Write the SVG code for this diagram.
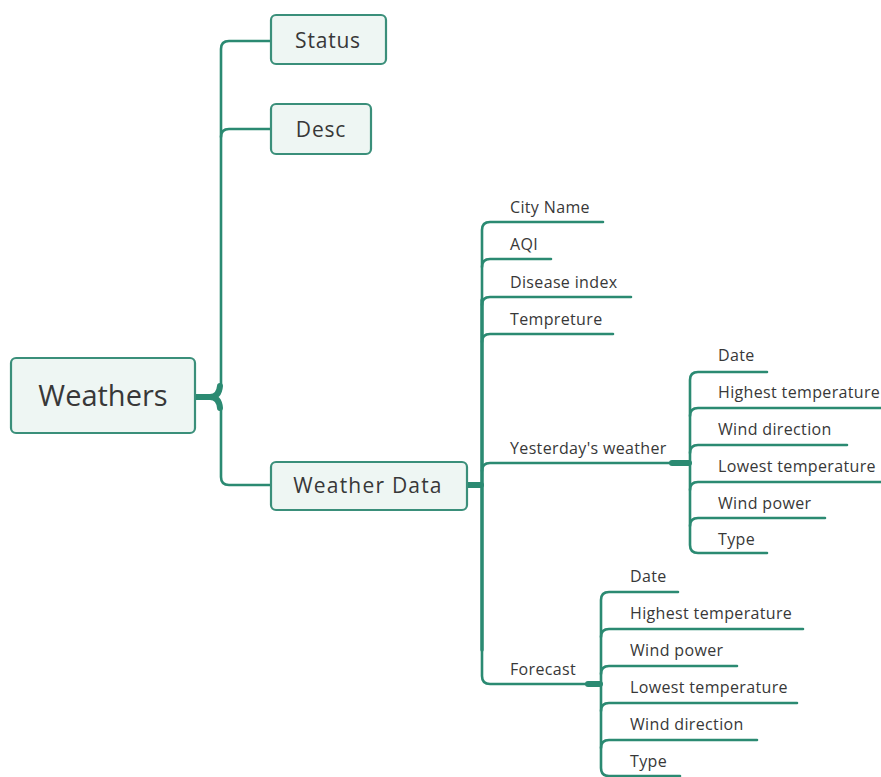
<svg xmlns="http://www.w3.org/2000/svg" width="881" height="777" viewBox="0 0 881 777">
<style>
.box{fill:#eef6f3;stroke:#3a8f7a;stroke-width:2.2}
.ln{fill:none;stroke:#2b8a72;stroke-width:2.6;stroke-linecap:round;stroke-linejoin:round}
.hub{fill:none;stroke:#2b8a72;stroke-width:6;stroke-linecap:round;stroke-linejoin:round}
.t{font-family:"Open Sans","Noto Sans",sans-serif;fill:#383838}
.s{font-size:16px;letter-spacing:0.35px}
.m{font-size:21px;text-anchor:middle;letter-spacing:0.8px}
</style>
<rect width="881" height="777" fill="#fff"/>
<g id="connectors">
  <path class="ln" d="M221,384 V49 Q221,41 229,41 H271"/>
  <path class="ln" d="M221,137 Q221,129 229,129 H271"/>
  <path class="ln" d="M221,410 V477 Q221,485 229,485 H271"/>
  <path class="hub" d="M196,397 H210 Q219,397 220,386 M210,397 Q219,397 220,408"/>
  <path class="hub" d="M467,485 H481"/>
  <path class="ln" d="M603,222 H490 Q482,222 482,230 V676 Q482,684 490,684 H590"/>
  <path class="ln" style="stroke-width:3.4" d="M482,300 V650"/>
  <path class="ln" d="M482,267 Q482,259 490,259 H551"/>
  <path class="ln" d="M482,305 Q482,297 490,297 H631"/>
  <path class="ln" d="M482,342 Q482,334 490,334 H613"/>
  <path class="ln" d="M482,471 Q482,463 490,463 H676"/>
  <path class="hub" d="M672,463 H689"/>
  <path class="hub" d="M588,684 H600"/>
  <path class="ln" d="M767,372 H698 Q690,372 690,380 V545 Q690,553 698,553 H767"/>
  <path class="ln" d="M690,416 Q690,408 698,408 H881"/>
  <path class="ln" d="M690,453 Q690,445 698,445 H847"/>
  <path class="ln" d="M690,490 Q690,482 698,482 H881"/>
  <path class="ln" d="M690,526 Q690,518 698,518 H825"/>
  <path class="ln" d="M678,592 H609 Q601,592 601,600 V768 Q601,776 609,776 H680"/>
  <path class="ln" d="M601,637 Q601,629 609,629 H803"/>
  <path class="ln" d="M601,674 Q601,666 609,666 H737"/>
  <path class="ln" d="M601,711 Q601,703 609,703 H797"/>
  <path class="ln" d="M601,748 Q601,740 609,740 H757"/>
</g>
<g id="weathers"><rect class="box" x="11" y="358" width="184" height="75" rx="5" fill="#e9f4f0"/><text class="t" x="103" y="406" font-size="29" text-anchor="middle">Weathers</text></g>
<g id="status"><rect class="box" x="271" y="15" width="115" height="49" rx="5"/><text class="t m" x="328" y="48">Status</text></g>
<g id="desc"><rect class="box" x="271" y="104" width="100" height="50" rx="5"/><text class="t m" x="321" y="137">Desc</text></g>
<g id="weather-data"><rect class="box" x="271" y="462" width="196" height="48" rx="5"/><text class="t m" x="368" y="493" style="letter-spacing:1.2px">Weather Data</text></g>
<g id="city-name"><text class="t s" x="510" y="213">City Name</text></g>
<g id="aqi"><text class="t s" x="510" y="250">AQI</text></g>
<g id="disease-index"><text class="t s" x="510" y="288">Disease index</text></g>
<g id="tempreture"><text class="t s" x="510" y="325">Tempreture</text></g>
<g id="yesterday"><text class="t s" x="510" y="454">Yesterday's weather</text></g>
<g id="forecast"><text class="t s" x="510" y="675">Forecast</text></g>
<g id="y-date"><text class="t s" x="718" y="361">Date</text></g>
<g id="y-high"><text class="t s" x="718" y="398">Highest temperature</text></g>
<g id="y-wdir"><text class="t s" x="718" y="435">Wind direction</text></g>
<g id="y-low"><text class="t s" x="718" y="472">Lowest temperature</text></g>
<g id="y-wpow"><text class="t s" x="718" y="509">Wind power</text></g>
<g id="y-type"><text class="t s" x="718" y="545">Type</text></g>
<g id="f-date"><text class="t s" x="630" y="582">Date</text></g>
<g id="f-high"><text class="t s" x="630" y="619">Highest temperature</text></g>
<g id="f-wpow"><text class="t s" x="630" y="656">Wind power</text></g>
<g id="f-low"><text class="t s" x="630" y="693">Lowest temperature</text></g>
<g id="f-wdir"><text class="t s" x="630" y="730">Wind direction</text></g>
<g id="f-type"><text class="t s" x="630" y="767">Type</text></g>
</svg>
